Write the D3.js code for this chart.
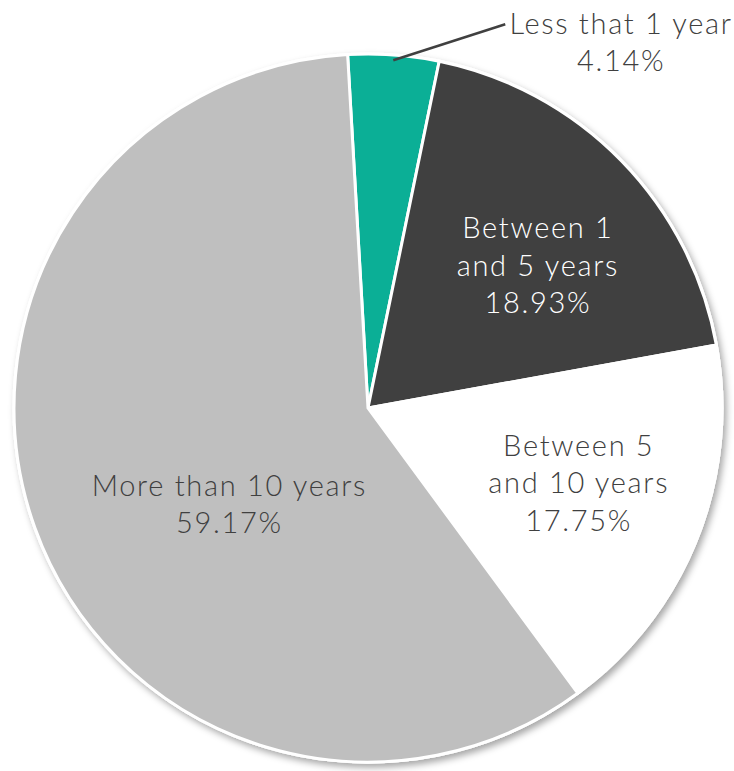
<!DOCTYPE html>
<html><head><meta charset="utf-8">
<script src="https://cdn.jsdelivr.net/npm/d3@7"></script>
<style>html,body{margin:0;padding:0;background:#fff;}svg{display:block;}</style>
</head><body>
<svg id="chart" width="734" height="771"></svg>
<script>
const categories = ["Less that 1 year", "Between 1 and 5 years", "Between 5 and 10 years", "More than 10 years"];
const labelLines = [["Less that 1 year"], ["Between 1", "and 5 years"], ["Between 5", "and 10 years"], ["More than 10 years"]];
const values = [4.14, 18.93, 17.75, 59.17];
const valueLabels = ["4.14%", "18.93%", "17.75%", "59.17%"];
const colors = ["#0BAF96", "#404040", "#FFFFFF", "#BFBFBF"];
const textColors = ["#404040", "#FFFFFF", "#404040", "#404040"];

const svg = d3.select("#chart");
const cx = 368, cy = 408, R = 354;
const startDeg = -3.3;

const defs = svg.append("defs");
const f = defs.append("filter").attr("id", "shadow").attr("x", "-10%").attr("y", "-10%").attr("width", "120%").attr("height", "120%");
f.append("feDropShadow").attr("dx", 3).attr("dy", 4).attr("stdDeviation", 3.5)
  .attr("flood-color", "#000").attr("flood-opacity", 0.35);

const g = svg.append("g").attr("transform", `translate(${cx},${cy})`);

const pie = d3.pie().sort(null).value(d => d)
  .startAngle(startDeg * Math.PI / 180)
  .endAngle(startDeg * Math.PI / 180 + 2 * Math.PI);
const arcs = pie(values);
const arc = d3.arc().innerRadius(0).outerRadius(R);

g.append("circle").attr("r", R + 1.5).attr("fill", "#fff").attr("filter", "url(#shadow)");

g.selectAll("path.slice").data(arcs).enter().append("path")
  .attr("class", "slice")
  .attr("d", arc)
  .attr("fill", (d, i) => colors[i])
  .attr("stroke", "#fff")
  .attr("stroke-width", 3)
  .attr("stroke-linejoin", "miter");

const font = "'Lato', 'Open Sans', sans-serif";
const fs = 29;
const lh = 37.5;
const ls = 1.7;

const labelArc = d3.arc().innerRadius(R * 0.62).outerRadius(R * 0.62);
const nudges = [[0, 0], [12, 11], [6, -6], [67, 22]];
arcs.forEach((d, i) => {
  if (i === 0) return;
  const [x0, y0] = labelArc.centroid(d);
  const x = x0 + nudges[i][0], y = y0 + nudges[i][1];
  const lines = labelLines[i].concat([valueLabels[i]]);
  const n = lines.length;
  const t = g.append("text")
    .attr("text-anchor", "middle")
    .attr("font-family", font)
    .attr("font-weight", 300)
    .attr("font-size", fs)
    .attr("letter-spacing", ls)
    .attr("fill", textColors[i]);
  lines.forEach((ln, k) => {
    t.append("tspan").attr("x", x + ls / 2)
      .attr("y", y + (k - (n - 1) / 2) * lh + fs * 0.35)
      .text(ln);
  });
});

{
  const d = arcs[0];
  const mid = (d.startAngle + d.endAngle) / 2;
  const pr = R * 0.985;
  const p0 = [Math.sin(mid) * pr, -Math.cos(mid) * pr];
  const p1 = [p0[0] + 112, p0[1] - 36];
  g.append("line").attr("x1", p0[0]).attr("y1", p0[1]).attr("x2", p1[0]).attr("y2", p1[1])
    .attr("stroke", "#404040").attr("stroke-width", 2.5);
  const tx = p1[0] + 115, ty = p1[1] + 18;
  const t = g.append("text")
    .attr("text-anchor", "middle")
    .attr("font-family", font)
    .attr("font-weight", 300)
    .attr("font-size", fs)
    .attr("letter-spacing", ls)
    .attr("fill", textColors[0]);
  const lines = labelLines[0].concat([valueLabels[0]]);
  lines.forEach((ln, k) => {
    t.append("tspan").attr("x", tx + ls / 2).attr("y", ty + (k - 0.5) * lh + fs * 0.35).text(ln);
  });
}
</script>
</body></html>
